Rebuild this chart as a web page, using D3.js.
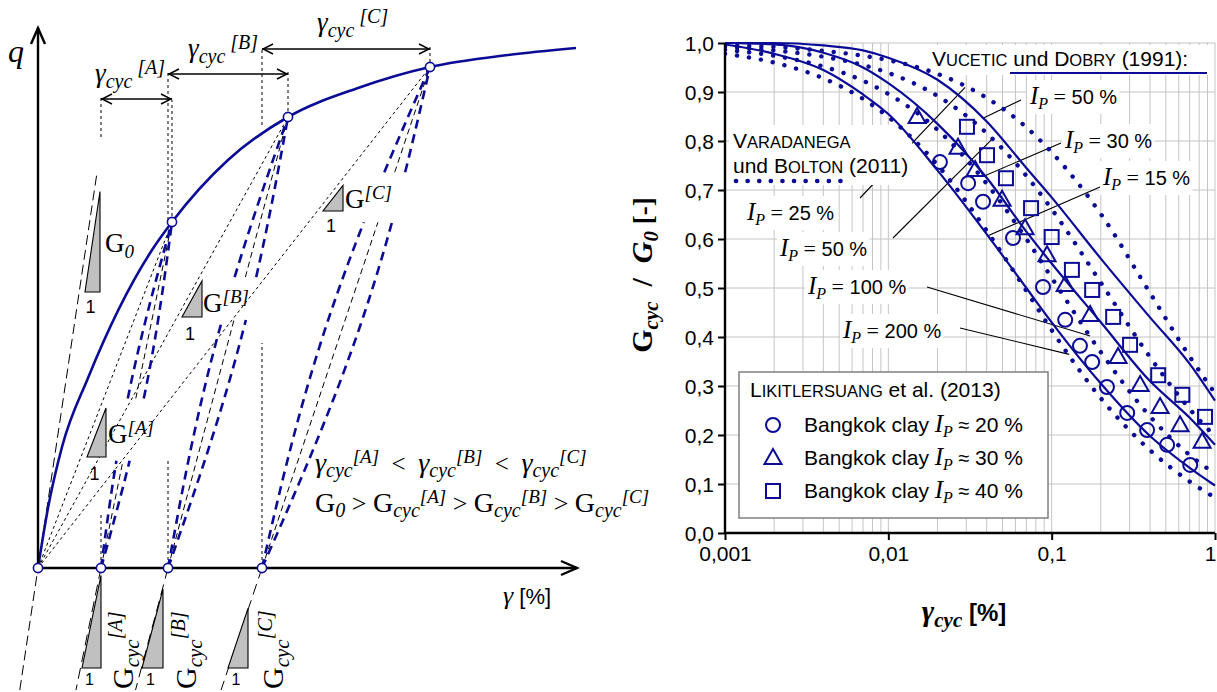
<!DOCTYPE html>
<html><head><meta charset="utf-8">
<script src="https://cdn.jsdelivr.net/npm/d3@7"></script>
<style>
body{margin:0;background:#fff}
svg{display:block}
text{white-space:pre}
</style></head><body>
<svg id="fig" width="1217" height="692"></svg>
<script>
// ---------------- Left: schematic backbone curve with cyclic loops ----------------
const backboneStrain = [0, 10, 24, 50, 114, 134, 190, 250, 320, 392, 470, 538];
const backboneStress = [0, 60, 121, 190, 318, 346, 408, 451, 480, 501, 513, 520];
const loopNames      = ["A", "B", "C"];
const peakStrain     = [134, 250, 392];
const peakStress     = [346, 451, 501];
const residualStrain = [63, 130, 224];
const initialSlope   = 6.7;   // G0 tangent

// ---------------- Right: modulus reduction curves ----------------
const strainGrid = [0.001, 0.002, 0.004, 0.007, 0.01, 0.02, 0.04, 0.07, 0.1, 0.2, 0.4, 0.7, 1.0];
const vdLabels = ["15", "30", "50"];
const vdIP15 = [0.997, 0.978, 0.945, 0.895, 0.855, 0.74, 0.61, 0.50, 0.43, 0.305, 0.198, 0.133, 0.097];
const vdIP30 = [1.0, 0.997, 0.98, 0.95, 0.918, 0.835, 0.725, 0.615, 0.55, 0.43, 0.31, 0.235, 0.18];
const vdIP50 = [1.0, 1.0, 0.995, 0.985, 0.97, 0.925, 0.84, 0.745, 0.685, 0.56, 0.44, 0.345, 0.27];
const vbLabels = ["25", "50", "100", "200"];
const vbIP25  = [0.995, 0.992, 0.984, 0.974, 0.965, 0.937, 0.888, 0.828, 0.777, 0.651, 0.49, 0.36, 0.285];
const vbIP50  = [0.992, 0.985, 0.972, 0.955, 0.939, 0.892, 0.816, 0.729, 0.661, 0.511, 0.359, 0.253, 0.197];
const vbIP100 = [0.986, 0.974, 0.952, 0.923, 0.896, 0.823, 0.713, 0.600, 0.521, 0.369, 0.238, 0.159, 0.121];
const vbIP200 = [0.978, 0.960, 0.928, 0.886, 0.849, 0.751, 0.617, 0.494, 0.414, 0.275, 0.169, 0.105, 0.072];
// strain at which each label's leader meets its curve
const vdLeaderStrain = [0.0407, 0.039, 0.038];
const vbLeaderStrain = [0.0295, 0.0432, 0.172, 0.128];

// Bangkok clay (Likitlersuang et al. 2013)
const clayIP = ["20", "30", "40"];
const ip20Strain = [0.0207, 0.0308, 0.038, 0.058, 0.0885, 0.121, 0.149, 0.177, 0.218, 0.29, 0.384, 0.509, 0.705];
const ip20G      = [0.757, 0.714, 0.676, 0.602, 0.502, 0.435, 0.382, 0.349, 0.298, 0.245, 0.21, 0.18, 0.139];
const ip30Strain = [0.015, 0.0267, 0.034, 0.0497, 0.0687, 0.0937, 0.121, 0.172, 0.255, 0.348, 0.461, 0.611, 0.834];
const ip30G      = [0.849, 0.786, 0.741, 0.68, 0.622, 0.567, 0.506, 0.445, 0.359, 0.302, 0.257, 0.22, 0.186];
const ip40Strain = [0.0303, 0.0402, 0.0525, 0.0748, 0.1, 0.133, 0.177, 0.238, 0.302, 0.449, 0.631, 0.869];
const ip40G      = [0.829, 0.771, 0.724, 0.663, 0.604, 0.537, 0.496, 0.441, 0.384, 0.322, 0.282, 0.237];

const yTicks = [0, 0.1, 0.2, 0.3, 0.4, 0.5, 0.6, 0.7, 0.8, 0.9, 1.0];
const xTicks = [0.001, 0.01, 0.1, 1];

// ---------------- styling ----------------
const BLUE = "#0b0b96";
const serif = "'Liberation Serif','Times New Roman',serif";
const sans = "'Liberation Sans',Arial,sans-serif";
const svg = d3.select("#fig");

function rich(sel, x, y, parts, anchor) {
  const t = sel.append("text").attr("x", x).attr("y", y).attr("text-anchor", anchor || "start").attr("fill", "#000");
  let cur = 0;
  parts.forEach(p => {
    const ts = t.append("tspan").text(p.t)
      .attr("font-family", p.f || serif).attr("font-size", p.s)
      .attr("font-style", p.i ? "italic" : "normal")
      .attr("font-weight", p.b ? "bold" : "normal");
    const off = p.dy || 0;
    if (off !== cur) { ts.attr("dy", off - cur); cur = off; }
  });
  return t;
}

// ======================= LEFT PANEL =======================
const xL = d3.scaleLinear().domain([0, 540]).range([38, 578]);
const yL = d3.scaleLinear().domain([0, 540]).range([568, 28]);
const L = svg.append("g");

// loop drawing layout (bulge of the hysteresis branches and the gap in each loop)
const loopBulge = [8, 12, 17];
const loopGap = [[0.31, 0.49], [0.55, 0.645], [0.69, 0.79]];
const belowAxis = -122;

function chordPoint(k, t) {
  const R = [xL(residualStrain[k]), yL(0)], P = [xL(peakStrain[k]), yL(peakStress[k])];
  return [R[0] + (P[0] - R[0]) * t, R[1] + (P[1] - R[1]) * t];
}
function branch(k, sign, t0, t1) {
  const pts = [];
  for (let i = 0; i <= 30; i++) {
    const t = t0 + (t1 - t0) * i / 30;
    const c = chordPoint(k, t);
    pts.push([c[0] + sign * loopBulge[k] * Math.sin(Math.PI * t), c[1]]);
  }
  return pts;
}
const lineGen = d3.line();

// secant lines from origin
peakStrain.forEach((g, k) => {
  L.append("line").attr("x1", xL(0)).attr("y1", yL(0)).attr("x2", xL(g)).attr("y2", yL(peakStress[k]))
    .attr("stroke", "#000").attr("stroke-width", 1).attr("stroke-dasharray", "3,3");
});

// G0 tangent, extended below the axis
L.append("line")
  .attr("x1", xL(belowAxis / initialSlope)).attr("y1", yL(belowAxis))
  .attr("x2", xL(396 / initialSlope)).attr("y2", yL(396))
  .attr("stroke", "#000").attr("stroke-width", 1).attr("stroke-dasharray", "10,5");

// vertical guide lines
const guideStrain = [63, 63, 134, 130, 130, 224, 224, 250, 392];
const guideFrom   = [431, 8, 346, 348, 8, 443, 8, 451, 506];
const guideTo     = [470, 55, 468, 496, 108, 521, 225, 496, 521];
guideStrain.forEach((g, i) => {
  L.append("line").attr("x1", xL(g)).attr("x2", xL(g)).attr("y1", yL(guideFrom[i])).attr("y2", yL(guideTo[i]))
    .attr("stroke", "#000").attr("stroke-width", 1).attr("stroke-dasharray", "3,3");
});

// loops: chord (black), two branches (blue), and the chord's extension below the axis
loopNames.forEach((n, k) => {
  const [g0, g1] = loopGap[k];
  [[0, g0], [g1, 1]].forEach(([a, b]) => {
    L.append("line").attr("x1", chordPoint(k, a)[0]).attr("y1", chordPoint(k, a)[1])
      .attr("x2", chordPoint(k, b)[0]).attr("y2", chordPoint(k, b)[1])
      .attr("stroke", "#000").attr("stroke-width", 1).attr("stroke-dasharray", "6,4");
    [-1, 1].forEach(s => {
      L.append("path").attr("d", lineGen(branch(k, s, a, b))).attr("fill", "none")
        .attr("stroke", BLUE).attr("stroke-width", 2.6).attr("stroke-dasharray", "9,6");
    });
  });
  const slope = peakStress[k] / (peakStrain[k] - residualStrain[k]);
  L.append("line").attr("x1", xL(residualStrain[k])).attr("y1", yL(0))
    .attr("x2", xL(residualStrain[k] + belowAxis / slope)).attr("y2", yL(belowAxis))
    .attr("stroke", "#000").attr("stroke-width", 1).attr("stroke-dasharray", "11,6");
});

// backbone
L.append("path")
  .attr("d", d3.line().x((d, i) => xL(backboneStrain[i])).y((d, i) => yL(backboneStress[i])).curve(d3.curveMonotoneX)(backboneStrain))
  .attr("fill", "none").attr("stroke", BLUE).attr("stroke-width", 2.6);

// axes with arrows
L.append("line").attr("x1", xL(0)).attr("y1", yL(-4)).attr("x2", xL(0)).attr("y2", yL(540)).attr("stroke", "#000").attr("stroke-width", 2.4);
L.append("line").attr("x1", xL(-2)).attr("y1", yL(0)).attr("x2", xL(539)).attr("y2", yL(0)).attr("stroke", "#000").attr("stroke-width", 2.4);
L.append("polyline").attr("points", [[xL(0) - 7, yL(540) + 16], [xL(0), yL(540)], [xL(0) + 7, yL(540) + 16]].join(" "))
  .attr("fill", "none").attr("stroke", "#000").attr("stroke-width", 2.4);
L.append("polyline").attr("points", [[xL(539) - 16, yL(0) - 7], [xL(539), yL(0)], [xL(539) - 16, yL(0) + 7]].join(" "))
  .attr("fill", "none").attr("stroke", "#000").attr("stroke-width", 2.4);

// strain amplitude arrows
const arrowLevel = [469, 494, 519];
loopNames.forEach((n, k) => {
  const x1 = xL(residualStrain[k]), x2 = xL(peakStrain[k]), y = yL(arrowLevel[k]);
  L.append("line").attr("x1", x1).attr("x2", x2).attr("y1", y).attr("y2", y).attr("stroke", "#000").attr("stroke-width", 1.4);
  L.append("polyline").attr("points", [[x1 + 11, y - 5], [x1 + 1, y], [x1 + 11, y + 5]].join(" ")).attr("fill", "none").attr("stroke", "#000").attr("stroke-width", 1.4);
  L.append("polyline").attr("points", [[x2 - 11, y - 5], [x2 - 1, y], [x2 - 11, y + 5]].join(" ")).attr("fill", "none").attr("stroke", "#000").attr("stroke-width", 1.4);
});

// slope triangles
const triSlope = [initialSlope]
  .concat(peakStress.map((q, k) => q / peakStrain[k]))
  .concat(peakStress.map((q, k) => q / (peakStrain[k] - residualStrain[k])));
const triCorner = [[47, 276], [49, 111], [144, 251], [285, 357], [44, -100], [104, -100], [190, -100]];
const triRun = [15, 19, 20, 20, 19, 21, 20];
const triOneGap = [21, 23, 23, 21, 17, 17, 17];
triSlope.forEach((s, i) => {
  const [g, q] = triCorner[i], r = triRun[i];
  const pts = [[xL(g), yL(q)], [xL(g + r), yL(q)], [xL(g + r), yL(q + r * s)]];
  L.append("polygon").attr("points", pts.join(" ")).attr("fill", "#c0c0c0").attr("stroke", "#000").attr("stroke-width", 1.1);
  L.append("text").attr("x", xL(g + r / 2) - 2).attr("y", yL(q) + triOneGap[i]).attr("text-anchor", "middle")
    .attr("font-family", sans).attr("font-size", i > 3 ? 16 : 18).text("1");
});

// key points
const keyPts = [[0, 0]].concat(residualStrain.map(g => [g, 0])).concat(peakStrain.map((g, k) => [g, peakStress[k]]));
L.selectAll("circle.kp").data(keyPts).enter().append("circle")
  .attr("cx", d => xL(d[0])).attr("cy", d => yL(d[1])).attr("r", 4.6)
  .attr("fill", "#fff").attr("stroke", BLUE).attr("stroke-width", 1.6);

// labels
rich(L, 8, 62, [{ t: "q", s: 32, i: true }]);
rich(L, 503, 604, [{ t: "γ", s: 26, i: true }, { t: " [%]", s: 22, f: sans }]);
rich(L, 105, 252, [{ t: "G", s: 27 }, { t: "0", s: 19, i: true, dy: 6 }]);
const gLabelPos = [[108, 443], [203, 312], [345, 208]];
loopNames.forEach((n, k) => {
  rich(L, gLabelPos[k][0], gLabelPos[k][1], [{ t: "G", s: 27 }, { t: "[" + n + "]", s: 19, i: true, dy: -9 }]);
});
const topLabelPos = [[95, 82], [188, 57], [317, 31]];
loopNames.forEach((n, k) => {
  rich(L, topLabelPos[k][0], topLabelPos[k][1], [
    { t: "γ", s: 27, i: true }, { t: "cyc", s: 20, i: true, dy: 6 }, { t: " [" + n + "]", s: 20, i: true, dy: -8 }]);
});
const rotLabelX = [133, 196, 283];
loopNames.forEach((n, k) => {
  const g = L.append("g").attr("transform", `translate(${rotLabelX[k]},689) rotate(-90)`);
  rich(g, 0, 0, [{ t: "G", s: 30 }, { t: "cyc", s: 21, i: true, dy: 6 }, { t: "[" + n + "]", s: 20, i: true, dy: -11 }]);
});
const ineq1 = [], ineq2 = [{ t: "G", s: 28 }, { t: "0", s: 20, i: true, dy: 5 }];
loopNames.forEach((n, k) => {
  if (k > 0) ineq1.push({ t: "  <  ", s: 25 });
  ineq1.push({ t: "γ", s: 28, i: true }, { t: "cyc", s: 20, i: true, dy: 5 }, { t: "[" + n + "]", s: 19, i: true, dy: -9 });
  ineq2.push({ t: " > ", s: 26 }, { t: "G", s: 28 }, { t: "cyc", s: 20, i: true, dy: 5 }, { t: "[" + n + "]", s: 19, i: true, dy: -9 });
});
rich(L, 315, 472, ineq1);
rich(L, 315, 512, ineq2);

// ======================= RIGHT PANEL =======================
const xR = d3.scaleLog().domain([0.001, 1]).range([725, 1215]);
const yR = d3.scaleLinear().domain([0, 1]).range([533, 43]);
const R = svg.append("g");

// grid
const minor = [];
[0.001, 0.01, 0.1].forEach(d => { for (let k = 1; k <= 9; k++) minor.push(d * k); });
minor.push(1);
R.selectAll("line.vg").data(minor.filter(v => v > 0.0011)).enter().append("line")
  .attr("x1", d => xR(d)).attr("x2", d => xR(d)).attr("y1", yR(0)).attr("y2", yR(1))
  .attr("stroke", "#c4c4c4").attr("stroke-width", 1);
R.selectAll("line.hg").data(yTicks.filter(v => v > 0)).enter().append("line")
  .attr("x1", xR(0.001)).attr("x2", xR(1)).attr("y1", d => yR(d)).attr("y2", d => yR(d))
  .attr("stroke", "#c4c4c4").attr("stroke-width", 1);

// leaders
function valueAt(vals, g) {
  const lg = Math.log10(g);
  for (let i = 0; i < strainGrid.length - 1; i++) {
    const a = Math.log10(strainGrid[i]), b = Math.log10(strainGrid[i + 1]);
    if (lg >= a && lg <= b) return vals[i] + (vals[i + 1] - vals[i]) * (lg - a) / (b - a);
  }
  return vals[vals.length - 1];
}
const vdSeries = [vdIP15, vdIP30, vdIP50];
const vbSeries = [vbIP25, vbIP50, vbIP100, vbIP200];
const vdLabelPos = [[1103, 185], [1065, 148], [1030, 104]];
const vdLeaderStart = [[1100, 187], [1061, 143], [1021, 100]];
const vbLabelPos = [[747, 220], [780, 256], [808, 294], [843, 338]];
const vbLeaderStart = [[860, 198], [893, 238], [927, 287], [960, 328]];
const leaders = R.append("g");
vdSeries.forEach((v, i) => {
  const g = vdLeaderStrain[i];
  leaders.append("line").attr("x1", vdLeaderStart[i][0]).attr("y1", vdLeaderStart[i][1])
    .attr("x2", xR(g)).attr("y2", yR(valueAt(v, g))).attr("stroke", "#000").attr("stroke-width", 1.1);
});
vbSeries.forEach((v, i) => {
  const g = vbLeaderStrain[i];
  leaders.append("line").attr("x1", vbLeaderStart[i][0]).attr("y1", vbLeaderStart[i][1])
    .attr("x2", xR(g)).attr("y2", yR(valueAt(v, g))).attr("stroke", "#000").attr("stroke-width", 1.1);
});

// label boxes with white background
const labels = R.append("g");
function boxed(fn, pad) {
  const g = labels.append("g");
  fn(g);
  const bb = g.node().getBBox();
  g.insert("rect", ":first-child").attr("x", bb.x - pad).attr("y", bb.y - pad)
    .attr("width", bb.width + 2 * pad).attr("height", bb.height + 2 * pad).attr("fill", "#fff");
  return g;
}
function ipLabel(g, x, y, val, rel) {
  rich(g, x, y, [{ t: "I", s: 25, i: true }, { t: "P", s: 16, i: true, dy: 5 },
    { t: " " + rel + " ", s: 22, dy: 0 }, { t: val + " %", s: 20, f: sans }]);
}
vdLabels.forEach((v, i) => boxed(g => ipLabel(g, vdLabelPos[i][0], vdLabelPos[i][1], v, "="), 2));
vbLabels.forEach((v, i) => boxed(g => ipLabel(g, vbLabelPos[i][0], vbLabelPos[i][1], v, "="), 2));

boxed(g => {
  rich(g, 733, 148, [{ t: "V", s: 21, f: sans }, { t: "ARADANEGA", s: 16.5, f: sans }]);
  rich(g, 733, 173, [{ t: "und ", s: 21, f: sans }, { t: "B", s: 21, f: sans }, { t: "OLTON", s: 16.5, f: sans }, { t: " (2011)", s: 21, f: sans }]);
  g.append("line").attr("x1", 736).attr("x2", 850).attr("y1", 181).attr("y2", 181)
    .attr("stroke", BLUE).attr("stroke-width", 4.6).attr("stroke-linecap", "round").attr("stroke-dasharray", "0.1,11.5");
}, 4);
boxed(g => {
  rich(g, 932, 66, [{ t: "V", s: 21, f: sans }, { t: "UCETIC", s: 16.5, f: sans }, { t: " und ", s: 21, f: sans },
    { t: "D", s: 21, f: sans }, { t: "OBRY", s: 16.5, f: sans }, { t: " (1991):", s: 21, f: sans }]);
  g.append("line").attr("x1", 1010).attr("x2", 1207).attr("y1", 73).attr("y2", 73).attr("stroke", BLUE).attr("stroke-width", 2.2);
}, 2);

// curves
R.append("clipPath").attr("id", "plotclip").append("rect").attr("x", 725).attr("y", 41).attr("width", 492).attr("height", 494);
const curveGen = d3.line().x((d, i) => xR(strainGrid[i])).y(d => yR(d)).curve(d3.curveMonotoneX);
const curves = R.append("g").attr("clip-path", "url(#plotclip)");
vbSeries.forEach(v => curves.append("path").attr("d", curveGen(v)).attr("fill", "none")
  .attr("stroke", BLUE).attr("stroke-width", 4.4).attr("stroke-linecap", "round").attr("stroke-dasharray", "0.1,12"));
vdSeries.forEach(v => curves.append("path").attr("d", curveGen(v)).attr("fill", "none")
  .attr("stroke", BLUE).attr("stroke-width", 2.2));

// markers
function marker(g, kind, x, y) {
  if (kind === 0) g.append("circle").attr("cx", x).attr("cy", y).attr("r", 7);
  else if (kind === 1) g.append("path").attr("d", `M${x},${y - 9}L${x + 8.5},${y + 6}L${x - 8.5},${y + 6}Z`);
  else g.append("rect").attr("x", x - 7).attr("y", y - 7).attr("width", 14).attr("height", 14);
}
const markers = R.append("g").attr("fill", "none").attr("stroke", BLUE).attr("stroke-width", 2);
[[ip20Strain, ip20G], [ip30Strain, ip30G], [ip40Strain, ip40G]].forEach(([xs, ys], kind) => {
  xs.forEach((g, i) => marker(markers, kind, xR(g), yR(ys[i])));
});

// axes
const yAxis = R.append("g").attr("transform", "translate(725,0)")
  .call(d3.axisLeft(yR).tickValues(yTicks).tickSize(7).tickFormat(d => d.toFixed(1).replace(".", ",")));
const xAxis = R.append("g").attr("transform", "translate(0,533)")
  .call(d3.axisBottom(xR).tickValues(xTicks).tickSize(7).tickFormat(d => String(d).replace(".", ",")));
[yAxis, xAxis].forEach(a => {
  a.select(".domain").attr("stroke", "#000").attr("stroke-width", 2.4);
  a.selectAll(".tick line").attr("stroke", "#000").attr("stroke-width", 2);
  a.selectAll(".tick text").attr("font-family", sans).attr("font-size", 21).attr("fill", "#000");
});
yAxis.select(".domain").attr("d", "M0,533V43");
yAxis.selectAll(".tick text").attr("x", -11).attr("dy", "0.36em");
xAxis.select(".domain").attr("d", "M725,0H1215");
xAxis.selectAll(".tick text").attr("y", 13);
// keep the last label inside the frame
xAxis.selectAll(".tick text").filter(d => d === 1).attr("text-anchor", "end").attr("x", 1);

// axis titles
const yt = R.append("g").attr("transform", "translate(652,275) rotate(-90)");
rich(yt, 0, 0, [{ t: "G", s: 30, b: true }, { t: "cyc", s: 21, b: true, i: true, dy: 6 },
  { t: "  /  ", s: 30, b: true }, { t: "G", s: 30, b: true, i: true }, { t: "0", s: 21, b: true, i: true, dy: 6 },
  { t: " [-]", s: 27, b: true }], "middle");
rich(R, 964, 621, [{ t: "γ", s: 30, b: true, i: true }, { t: "cyc", s: 21, b: true, i: true, dy: 6 },
  { t: " [%]", s: 24, b: true, f: sans }], "middle");

// legend
const lg = R.append("g");
lg.append("rect").attr("x", 739).attr("y", 372).attr("width", 309).attr("height", 146)
  .attr("fill", "#fff").attr("stroke", "#808080").attr("stroke-width", 1.5);
rich(lg, 750, 397, [{ t: "L", s: 21, f: sans }, { t: "IKITLERSUANG", s: 16.5, f: sans }, { t: " et al. (2013)", s: 21, f: sans }]);
const lgMarks = lg.append("g").attr("fill", "none").attr("stroke", BLUE).attr("stroke-width", 2);
clayIP.forEach((ip, k) => {
  const y = 425 + k * 33;
  marker(lgMarks, k, 773, y);
  rich(lg, 804, y + 7, [{ t: "Bangkok clay ", s: 21, f: sans }, { t: "I", s: 25, i: true }, { t: "P", s: 16, i: true, dy: 5 },
    { t: " ≈ ", s: 20, f: sans, dy: 0 }, { t: ip + " %", s: 21, f: sans }]);
});
</script>
</body></html>
